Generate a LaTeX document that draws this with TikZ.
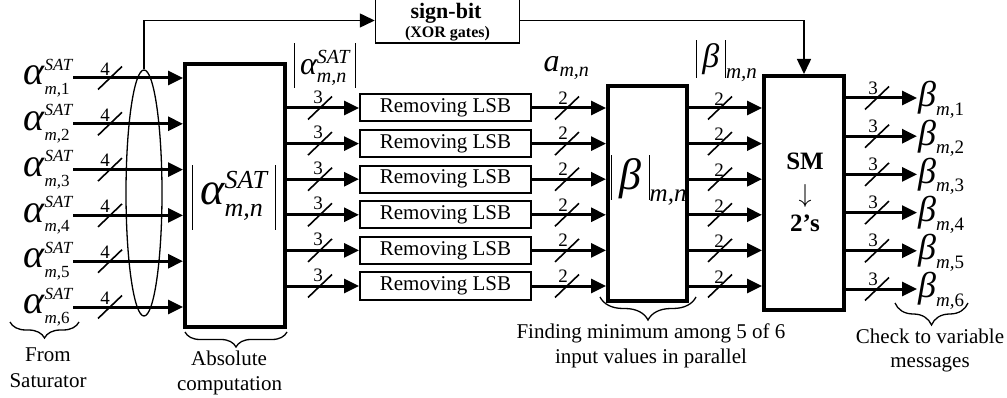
\RequirePackage{fix-cm}
\documentclass[tikz,border=0pt]{standalone}
\usepackage{amsmath}
\usepackage{fontspec}
\setmainfont{Liberation Serif}
\usetikzlibrary{arrows.meta,decorations.pathreplacing,shapes.geometric,calc}
% math sizes: text size, math size, script size, scriptscript size
\DeclareMathSizes{32}{32}{20}{14}
\DeclareMathSizes{34}{34}{21}{15}
\DeclareMathSizes{36}{36}{19}{14}
\DeclareMathSizes{40}{40}{17}{13}
\DeclareMathSizes{44}{44}{25}{17}
\DeclareMathSizes{46}{46}{26}{18}
\newcommand\mi[1]{\text{\itshape #1}}
\newcommand\fs[1]{\fontsize{#1}{#1}\selectfont}
% magnitude bar of given height and depth
\newcommand\vb[2]{\vrule height #1 depth #2 width 1.1pt}

\begin{document}
\begin{tikzpicture}[x=1pt,y=-1pt,
  bus/.style={line width=3pt,-{Triangle[length=15pt,width=14pt]}},
  fbline/.style={line width=1.5pt,-{Triangle[length=15pt,width=14pt]}},
  busmark/.style={line width=1.6pt},
  thickbox/.style={draw,line width=4pt,inner sep=0pt},
  lsbbox/.style={draw,line width=2pt,minimum width=171pt,minimum height=27pt,inner sep=0pt,font=\fs{21}},
  widthlbl/.style={font=\fs{19},inner sep=0pt},
  caption/.style={anchor=base,inner sep=0pt,font=\fs{21}},
  brc/.style={decorate,decoration={brace,mirror,amplitude=#1},line width=1.3pt},
  mathlbl/.style={inner sep=0pt,font=\fs{#1}},
]
\useasboundingbox (0,0) rectangle (1007,398);

% processing blocks
\node[thickbox,minimum width=99.5pt,minimum height=263pt] (absbox) at (234.75,195.5) {};
\node[thickbox,minimum width=78.5pt,minimum height=214.5pt] (minbox) at (647.25,193.25) {};
\node[thickbox,minimum width=80pt,minimum height=233.5pt] (smbox) at (804,192.75) {};
\node[draw,line width=1.5pt,minimum width=144pt,minimum height=45pt,inner sep=0pt] (sign) at (447.5,20.5) {};

% block texts
\node[anchor=base,inner sep=0pt,font=\fs{22}\bfseries] (signt) at (446,19) {sign-bit};
\node[anchor=base,inner sep=0pt,font=\fs{16}\bfseries] (xort) at (447.5,38) {(XOR gates)};
\node[mathlbl=46] (abslab) at (234,197.5) {$\vb{40pt}{25pt}\,\mi{α}^{\mi{SAT}}_{\mi{m,n}}\,\vb{40pt}{25pt}$};
\node[mathlbl=44] (minlab) at (649,180) {$\vb{35pt}{10pt}\,\mi{β}\,{\vb{35pt}{10pt}}_{\mi{m,n}}$};
\node[anchor=base,inner sep=0pt,font=\fs{25}\bfseries] (smt) at (805,170) {SM};
\node[anchor=base,inner sep=0pt,font=\fs{26}] (smarrow) at (805,203) {$\downarrow$};
\node[anchor=base,inner sep=0pt,font=\fs{25}\bfseries] (twot) at (805,232) {2’s};

% signal names above the buses
\node[mathlbl=32] (abstop) at (325,65.5) {$\vb{32pt}{13pt}\,\mi{α}^{\mi{SAT}}_{\mi{m,n}}\,\vb{32pt}{13pt}$};
\node[mathlbl=32] (atop) at (566.5,68) {$\mi{a}_{\mi{m,n}}$};
\node[mathlbl=34] (btop) at (726.5,61) {$\vb{28pt}{10pt}\,\mi{β}\,{\vb{28pt}{10pt}}_{\mi{m,n}}$};

% inputs from the saturator
\foreach \i in {1,...,6}{
  \pgfmathsetmacro\yy{78+45.8*(\i-1)}
  \coordinate (in\i) at (73,\yy);
  \node[mathlbl=40,anchor=east] (alab\i) at (in\i) {$\mi{α}^{\mi{SAT}}_{\mi{m,}\text{\i}}$};
  \draw[bus] (in\i) -- (absbox.west |- in\i);
  \node[widthlbl] at (105,\yy-9) {4};
  \draw[busmark] (110-12,\yy+11.5) -- ++(24,-23);
}

% grouping ellipse round the input buses
\node[draw,ellipse,line width=1.3pt,minimum width=36pt,minimum height=246pt,inner sep=0pt] (grp) at (144,193) {};

% LSB removal stage and minimum finder
\foreach \i in {1,...,6}{
  \pgfmathsetmacro\yy{108+35.6*(\i-1)}
  \node[lsbbox] (lsb\i) at (445.5,\yy) {Removing LSB};
  \draw[bus] (absbox.east |- lsb\i.west) -- (lsb\i.west);
  \node[widthlbl] at (318,\yy-11) {3};
  \draw[busmark] (320-12,\yy+11.5) -- ++(24,-23);
  \draw[bus] (lsb\i.east) -- (minbox.west |- lsb\i.east);
  \node[widthlbl] at (563,\yy-10) {2};
  \draw[busmark] (567-12,\yy+11.5) -- ++(24,-23);
  \draw[bus] (minbox.east |- lsb\i.east) -- (smbox.west |- lsb\i.east);
  \node[widthlbl] at (719,\yy-9) {2};
  \draw[busmark] (720-12,\yy+11.5) -- ++(24,-23);
}

% outputs
\foreach \i in {1,...,6}{
  \pgfmathsetmacro\yy{98+38.2*(\i-1)}
  \coordinate (out\i) at (917,\yy);
  \node[mathlbl=36,anchor=west] (blab\i) at (918,\yy+2) {$\mi{β}_{\mi{m,}\text{\i}}$};
  \draw[bus] (smbox.east |- out\i) -- (out\i);
  \node[widthlbl] at (873,\yy-10) {3};
  \draw[busmark] (877-12,\yy+11.5) -- ++(24,-23);
}

% sign path
\draw[fbline] (grp.north) |- (sign.west);
\draw[fbline] (sign.east) -| (smbox.north);

% braces and captions
\draw[brc=16pt] (10,322) -- (79,322);
\node[caption] (from1) at (48,361) {From};
\node[caption] (from2) at (48,387) {Saturator};
\draw[brc=15pt] (185,332) -- (287,332);
\node[caption] (abs1) at (229,365) {Absolute};
\node[caption] (abs2) at (229.5,390) {computation};
\draw[brc=23pt] (600,297) -- (696,297);
\node[caption] (min1) at (651,338) {Finding minimum among 5 of 6};
\node[caption] (min2) at (651,363) {input values in parallel};
\draw[brc=22pt] (895,303) -- (968,303);
\node[caption] (chk1) at (930,343) {Check to variable};
\node[caption] (chk2) at (930,367) {messages};
\end{tikzpicture}
\end{document}
